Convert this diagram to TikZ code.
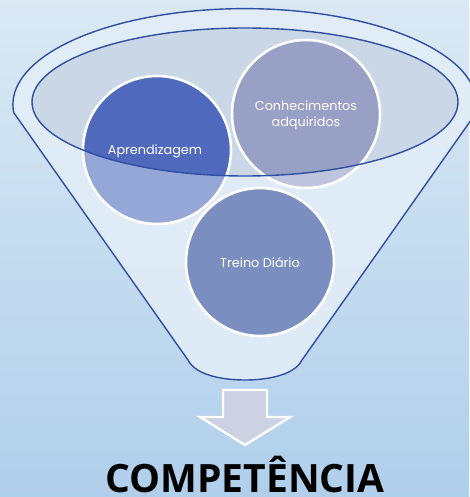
\documentclass[tikz,border=0pt]{standalone}
\usepackage{fontspec}
\setmainfont{Poppins}
\newfontfamily\bigfont{Open Sans}
\definecolor{bgtop}{HTML}{DAE9F4}
\definecolor{bgbot}{HTML}{B0CFEB}
\definecolor{funline}{HTML}{2F4FA3}
\definecolor{funfill}{HTML}{E2EDF7}
\definecolor{innerfill}{HTML}{CAD7E7}
\definecolor{apdark}{HTML}{4F69BD}
\definecolor{aplight}{HTML}{95A7D6}
\definecolor{condark}{HTML}{98A0C5}
\definecolor{conlight}{HTML}{BEC4DD}
\definecolor{treino}{HTML}{7A8FBF}
\definecolor{arrowfill}{HTML}{CCD1E3}
\tikzset{
  funnelline/.style={draw=funline, line width=1.4pt},
  circtext/.style={text=white, font=\fontsize{12.8}{16}\selectfont, align=center},
  ring/.style={draw=white, line width=2.6pt},
}
\begin{document}
\begin{tikzpicture}[x=1pt,y=-1pt]
\useasboundingbox (0,0) rectangle (469,497);
\shade[top color=bgtop, bottom color=bgbot] (0,0) rectangle (469,497);
% funnel body
\path[fill=funfill, fill opacity=0.9]
  (14,113) -- (188,360) .. controls (196,376) and (225,380) .. (245,380)
  .. controls (265,380) and (294,376) .. (302,360) -- (476,113)
  arc[start angle=5, end angle=-185, x radius=232, y radius=96] -- cycle;
\draw[funnelline]
  (14,113) -- (188,360) .. controls (196,376) and (225,380) .. (245,380)
  .. controls (265,380) and (294,376) .. (302,360) -- (476,113)
  arc[start angle=5, end angle=-185, x radius=232, y radius=96];
% inner ellipse fill
\fill[innerfill] (245,102) ellipse[x radius=213, y radius=74];
% circles
\node[circle, minimum size=148pt, inner sep=0pt, fill=aplight] (apc) at (157,150) {};
\node[circle, minimum size=148pt, inner sep=0pt, fill=conlight] (conc) at (306,114) {};
\node[circle, minimum size=148pt, inner sep=0pt, fill=treino] (trc) at (260,262) {};
\begin{scope}
  \clip (245,102) ellipse[x radius=213, y radius=74];
  \fill[apdark] (apc.center) circle[radius=74pt];
  \fill[condark] (conc.center) circle[radius=74pt];
\end{scope}
\draw[ring] (apc.center) circle[radius=74pt];
\draw[ring] (conc.center) circle[radius=74pt];
\draw[ring] (trc.center) circle[radius=74pt];
\node[circtext] (apt) at (155,151) {Aprendizagem};
\node[circtext] (cont) at (306,115) {Conhecimentos\\adquiridos};
\node[circtext] (trt) at (260,263) {Treino Diário};
% inner ellipse outline
\draw[funnelline] (245,102) ellipse[x radius=213, y radius=74];
% arrow
\draw[fill=arrowfill, draw=white, line width=2.4pt, line join=miter]
  (223,390) -- (267,390) -- (267,417) -- (290,417) -- (245,445) -- (200,417) -- (223,417) -- cycle;
\node[font=\bigfont\bfseries\fontsize{39}{39}\selectfont, text=black, anchor=base, inner sep=0pt] (comp) at (245,492) {COMPETÊNCIA};
\end{tikzpicture}
\end{document}
